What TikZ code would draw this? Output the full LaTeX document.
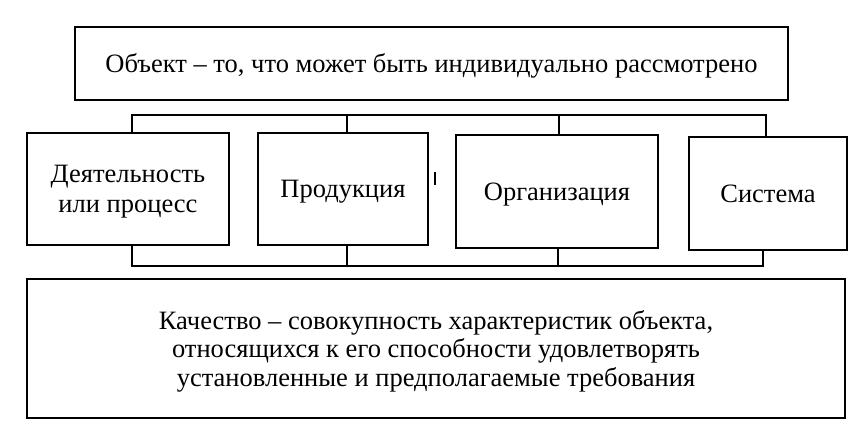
\documentclass[tikz,border=0pt]{standalone}
\usepackage{fontspec}
\setmainfont{Liberation Serif}
\usetikzlibrary{positioning}

\begin{document}
\begin{tikzpicture}
[
	              x = 1pt,
	              y = -1pt,
	    box/.style = { draw=black, line width=1.8pt, rectangle, inner sep=0pt, align=center,
	                   text depth=0pt, font=\fontsize{26.5}{28.5}\selectfont },
	   wire/.style = { draw=black, line width=1.8pt },
	  stray/.style = { draw=black, line width=1.2pt },
	junction/.style = { shape=coordinate }
]

    \useasboundingbox (0,0) rectangle (859,434);

    \node (ObjectBox)    at (431.5, 63.5) [box, minimum width=713pt, minimum height=73pt]
        {Объект – то, что может быть индивидуально рассмотрено};

    \node (ActivityBox)  at (128,189)     [box, minimum width=202pt, minimum height=112pt, font=\fontsize{26.5}{30}\selectfont]
        {Деятельность\\или процесс};
    \node (ProductBox)   at (343,189)     [box, minimum width=170pt, minimum height=112pt]
        {Продукция};
    \node (OrgBox)       at (557,191.5)   [box, minimum width=202pt, minimum height=113pt]
        {Организация};
    \node (SystemBox)    at (768,193.5)   [box, minimum width=158pt, minimum height=113pt]
        {Система};

    \node (QualityBox)   at (436,348.5)   [box, minimum width=818pt, minimum height=139pt]
        {Качество – совокупность характеристик объекта,\\
         относящихся к его способности удовлетворять\\
         установленные и предполагаемые требования};

    % upper bus
    \node (TopBusL)      at (132,115)     [junction] {};
    \node (TopBusP)      at (347,115)     [junction] {};
    \node (TopBusO)      at (559,115)     [junction] {};
    \node (TopBusR)      at (766,115)     [junction] {};

    % lower bus
    \node (LowBusL)      at (132,266)     [junction] {};
    \node (LowBusP)      at (347,266)     [junction] {};
    \node (LowBusO)      at (558,266)     [junction] {};
    \node (LowBusR)      at (763,266)     [junction] {};

    \node (StrayTop)     at (435,172)     [junction] {};
    \node (StrayBottom)  at (435,185)     [junction] {};

    \draw[wire] (ActivityBox.north -| TopBusL) -- (TopBusL) -- (TopBusR) -- (SystemBox.north -| TopBusR);
    \draw[wire] (ProductBox.north -| TopBusP) -- (TopBusP);
    \draw[wire] (OrgBox.north -| TopBusO) -- (TopBusO);

    \draw[wire] (ActivityBox.south -| LowBusL) -- (LowBusL) -- (LowBusR) -- (SystemBox.south -| LowBusR);
    \draw[wire] (ProductBox.south -| LowBusP) -- (LowBusP);
    \draw[wire] (OrgBox.south -| LowBusO) -- (LowBusO);

    \draw[stray] (StrayTop) -- (StrayBottom);

\end{tikzpicture}
\end{document}
